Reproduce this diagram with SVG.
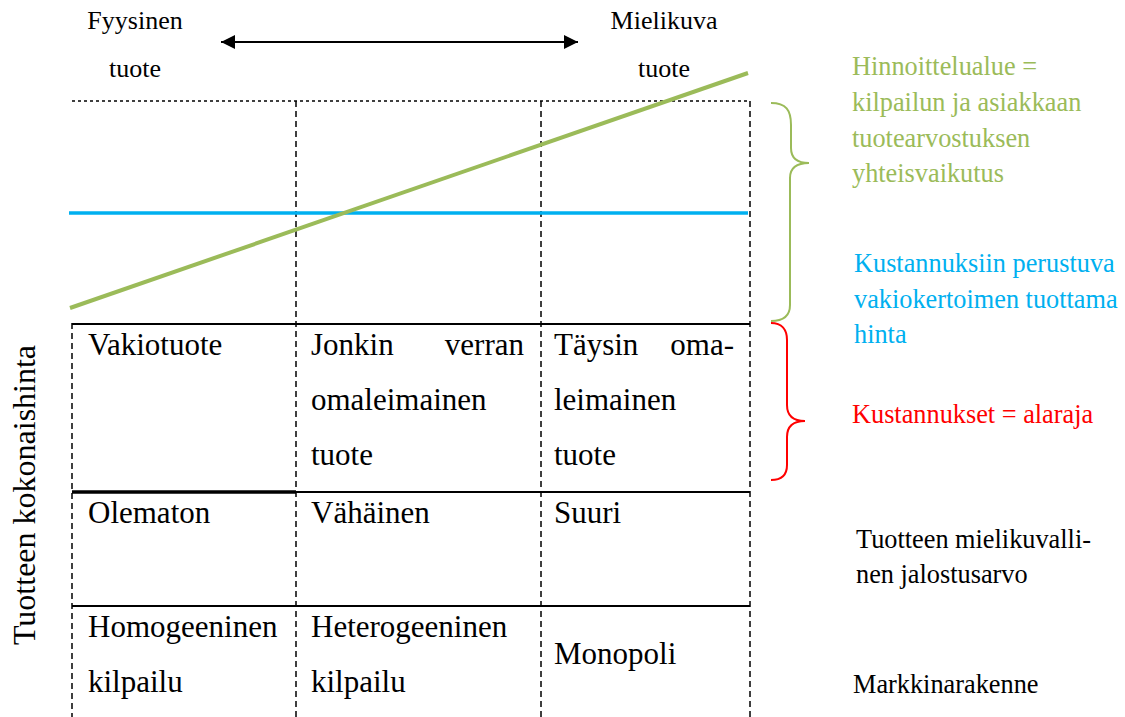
<svg xmlns="http://www.w3.org/2000/svg" width="1125" height="717" viewBox="0 0 1125 717" font-family="'Liberation Serif', 'Times New Roman', 'DejaVu Serif', serif">
<style>
text{font-family:'Liberation Serif','Times New Roman','DejaVu Serif',serif;fill:#000}
.cell{font-size:31px}
.top{font-size:26px}
.side{font-size:26.3px}
.g{fill:#9BBB59}
.b{fill:#00B0F0}
.r{fill:#FF0000}
.dash{stroke:#000;stroke-width:1.5;stroke-dasharray:6 4;fill:none}
.dot{stroke:#000;stroke-width:1.7;stroke-dasharray:3 3;fill:none}
.solid{stroke:#000;stroke-width:2;fill:none}
</style>
<defs>
<marker id="ah" viewBox="0 0 10 10" refX="10" refY="5" markerWidth="7" markerHeight="8" orient="auto-start-reverse" markerUnits="strokeWidth">
<path d="M0,0 L10,5 L0,10 z" fill="#000"/>
</marker>
</defs>

<g id="grid">
<line class="dot" x1="72" y1="101" x2="750" y2="101"/>
<line class="dash" x1="296" y1="101" x2="296" y2="717"/>
<line class="dash" x1="541" y1="101" x2="541" y2="717"/>
<line class="dash" x1="750" y1="101" x2="750" y2="717"/>
<line class="dash" x1="72" y1="323" x2="72" y2="717"/>
<line class="solid" x1="72" y1="324" x2="750" y2="324"/>
<line x1="72" y1="492" x2="296" y2="492" stroke="#000" stroke-width="3.5"/>
<line class="solid" x1="296" y1="492" x2="750" y2="492"/>
<line class="solid" x1="72" y1="606" x2="750" y2="606"/>
</g>

<g id="connectors">
<line x1="221" y1="42" x2="578" y2="42" stroke="#000" stroke-width="2" marker-start="url(#ah)" marker-end="url(#ah)"/>
<line x1="69" y1="213" x2="748" y2="213" stroke="#00B0F0" stroke-width="3.5"/>
<line x1="70" y1="308" x2="748" y2="73" stroke="#9BBB59" stroke-width="4"/>
<path d="M771,103 C786,103 791,110 791,125 L791,148 C791,158 797,163 809,163 C797,163 790,168 790,178 L790,305 C790,316 784,321 771,321" fill="none" stroke="#9BBB59" stroke-width="2"/>
<path d="M771,323 C782,323 787,330 787,340 L787,405 C787,415 793,421 805,421 C793,421 787,427 787,437 L787,465 C787,475 782,480 771,480" fill="none" stroke="#FF0000" stroke-width="2"/>
</g>

<g id="axis-labels">
<text class="top" x="135" y="29" text-anchor="middle">Fyysinen</text>
<text class="top" x="135" y="77" text-anchor="middle">tuote</text>
<text class="top" x="664" y="29" text-anchor="middle">Mielikuva</text>
<text class="top" x="664" y="77" text-anchor="middle">tuote</text>
<text x="35" y="495" font-size="32" text-anchor="middle" transform="rotate(-90 35 495)">Tuotteen kokonaishinta</text>
</g>

<g id="row-product">
<text class="cell" x="88" y="355">Vakiotuote</text>
<text class="cell" x="311" y="355">Jonkin</text>
<text class="cell" x="524" y="355" text-anchor="end">verran</text>
<text class="cell" x="311" y="410">omaleimainen</text>
<text class="cell" x="311" y="465">tuote</text>
<text class="cell" x="554" y="355">Täysin</text>
<text class="cell" x="734" y="355" text-anchor="end">oma-</text>
<text class="cell" x="554" y="410">leimainen</text>
<text class="cell" x="554" y="465">tuote</text>
</g>

<g id="row-value">
<text class="cell" x="88" y="523">Olematon</text>
<text class="cell" x="311" y="523">Vähäinen</text>
<text class="cell" x="554" y="523">Suuri</text>
</g>

<g id="row-market">
<text class="cell" x="88" y="637">Homogeeninen</text>
<text class="cell" x="88" y="692">kilpailu</text>
<text class="cell" x="311" y="637">Heterogeeninen</text>
<text class="cell" x="311" y="692">kilpailu</text>
<text class="cell" x="554" y="664">Monopoli</text>
</g>

<g id="label-range">
<text class="side g" x="852" y="75">Hinnoittelualue =</text>
<text class="side g" x="852" y="111">kilpailun ja asiakkaan</text>
<text class="side g" x="852" y="147">tuotearvostuksen</text>
<text class="side g" x="852" y="182">yhteisvaikutus</text>
</g>

<g id="label-cost-price">
<text class="side b" x="854" y="272">Kustannuksiin perustuva</text>
<text class="side b" x="854" y="308">vakiokertoimen tuottama</text>
<text class="side b" x="854" y="343">hinta</text>
</g>

<g id="label-cost">
<text class="side r" x="852" y="423">Kustannukset = alaraja</text>
</g>

<g id="label-value">
<text class="side" x="856" y="548">Tuotteen mielikuvalli-</text>
<text class="side" x="856" y="583">nen jalostusarvo</text>
</g>

<g id="label-market">
<text class="side" x="853" y="693">Markkinarakenne</text>
</g>
</svg>
